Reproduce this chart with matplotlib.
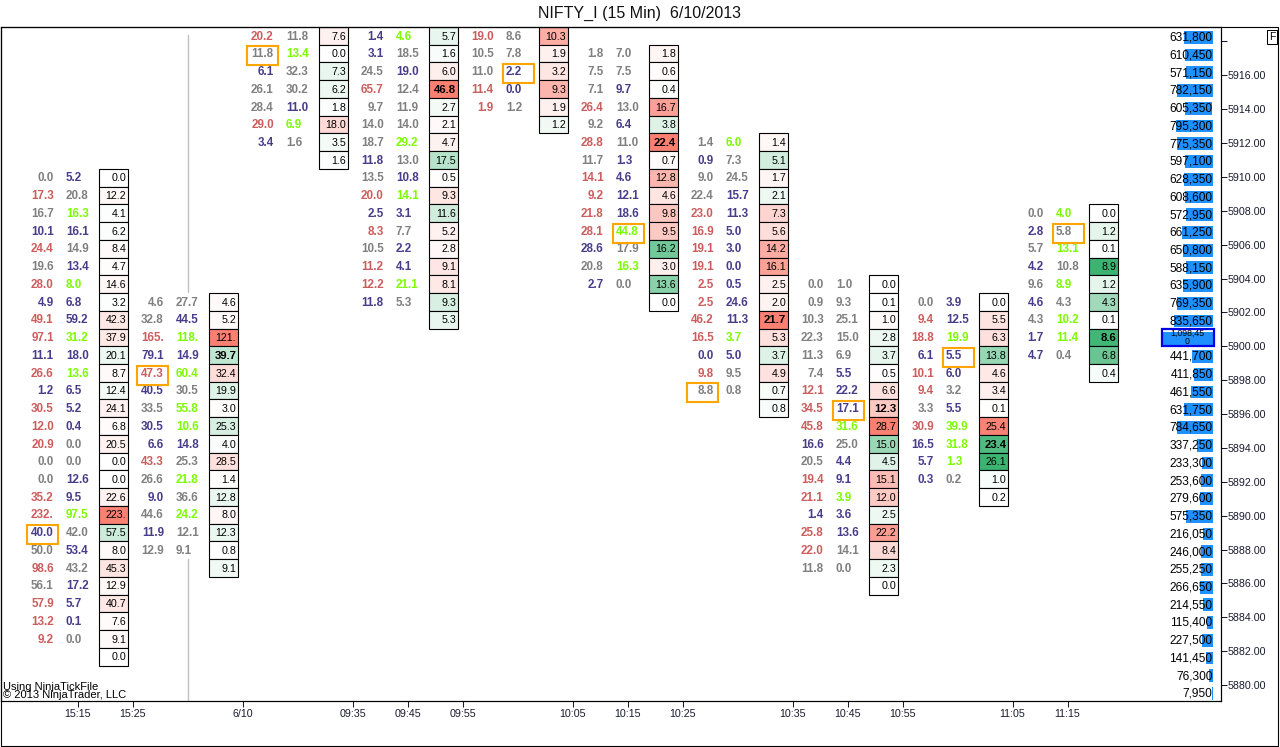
import matplotlib
matplotlib.use("Agg")
import matplotlib.pyplot as plt
from matplotlib.patches import Rectangle
import numpy as np

plt.rcParams['font.family'] = ['Liberation Sans', 'DejaVu Sans']

TITLE = "NIFTY_I (15 Min)  6/10/2013"

# ---------------- data (per bar: top row, bid/ask columns, colour codes, delta) ----------------
# colour codes: R = red, G = gray, B = dark blue, L = lime
bar_top_row = [8, 15, 0, 0, 0, 1, 6, 14, 15, 10]

bar0_c1 = [0.0, 17.3, 16.7, 10.1, 24.4, 19.6, 28.0, 4.9, 49.1, 97.1, 11.1, 26.6, 1.2, 30.5, 12.0, 20.9, 0.0, 0.0, 35.2, 232.0, 40.0, 50.0, 98.6, 56.1, 57.9, 13.2, 9.2]
bar0_c2 = [5.2, 20.8, 16.3, 16.1, 14.9, 13.4, 8.0, 6.8, 59.2, 31.2, 18.0, 13.6, 6.5, 5.2, 0.4, 0.0, 0.0, 12.6, 9.5, 97.5, 42.0, 53.4, 43.2, 17.2, 5.7, 0.1, 0.0]
bar0_k1 = "GRGBRGRBRRBRBRRRGGRRBGRGRRR"
bar0_k2 = "BGLBGBLBBLBLBBBGGBBLGBGBBBG"
bar0_delta = [0.0, 12.2, -4.1, -6.2, 8.4, 4.7, 14.6, -3.2, 42.3, 37.9, -20.1, 8.7, -12.4, 24.1, 6.8, 20.5, 0.0, 0.0, 22.6, 223.0, -57.5, 8.0, 45.3, 12.9, 40.7, 7.6, 9.1, 0.0]

bar1_c1 = [4.6, 32.8, 165.0, 79.1, 47.3, 40.5, 33.5, 30.5, 6.6, 43.3, 26.6, 9.0, 44.6, 11.9, 12.9]
bar1_c2 = [27.7, 44.5, 118.0, 14.9, 60.4, 30.5, 55.8, 10.6, 14.8, 25.3, 21.8, 36.6, 24.2, 12.1, 9.1]
bar1_k1 = "GGRBRBGBBRGBGBG"
bar1_k2 = "GBLBLGLLBGLGLGG"
bar1_delta = [4.6, 5.2, 121.0, -39.7, 32.4, -19.9, 3.0, -25.3, -4.0, 28.5, 1.4, -12.8, 8.0, -12.3, 0.8, -9.1]

bar2_c1 = [20.2, 11.8, 6.1, 26.1, 28.4, 29.0, 3.4]
bar2_c2 = [11.8, 13.4, 32.3, 30.2, 11.0, 6.9, 1.6]
bar2_k1 = "RGBGGRB"
bar2_k2 = "GLGGBLG"
bar2_delta = [7.6, 0.0, -7.3, -6.2, -1.8, 18.0, -3.5, -1.6]

bar3_c1 = [1.4, 3.1, 24.5, 65.7, 9.7, 14.0, 18.7, 11.8, 13.5, 20.0, 2.5, 8.3, 10.5, 11.2, 12.2, 11.8]
bar3_c2 = [4.6, 18.5, 19.0, 12.4, 11.9, 14.0, 29.2, 13.0, 10.8, 14.1, 3.1, 7.7, 2.2, 4.1, 21.1, 5.3]
bar3_k1 = "BBGRGGGBGRBRGRRB"
bar3_k2 = "LGBGGGLGBLBGBBLG"
bar3_delta = [-5.7, -1.6, 6.0, 46.8, -2.7, 2.1, 4.7, -17.5, 0.5, 9.3, -11.6, 5.2, 2.8, 9.1, 8.1, -9.3, -5.3]

bar4_c1 = [19.0, 10.5, 11.0, 11.4, 1.9]
bar4_c2 = [8.6, 7.8, 2.2, 0.0, 1.2]
bar4_k1 = "RGGRR"
bar4_k2 = "GGBBG"
bar4_delta = [10.3, 1.9, 3.2, 9.3, 1.9, -1.2]

bar5_c1 = [1.8, 7.5, 7.1, 26.4, 9.2, 28.8, 11.7, 14.1, 9.2, 21.8, 28.1, 28.6, 20.8, 2.7]
bar5_c2 = [7.0, 7.5, 9.7, 13.0, 6.4, 11.0, 1.3, 4.6, 12.1, 18.6, 44.8, 17.9, 16.3, 0.0]
bar5_k1 = "GGGRGRGRRRRBGB"
bar5_k2 = "GGBGBGBBBBLGLG"
bar5_delta = [1.8, 0.6, -0.4, 16.7, -3.8, 22.4, 0.7, 12.8, 4.6, 9.8, 9.5, -16.2, 3.0, -13.6, 0.0]

bar6_c1 = [1.4, 0.9, 9.0, 22.4, 23.0, 16.9, 19.1, 19.1, 2.5, 2.5, 46.2, 16.5, 0.0, 9.8, 8.8]
bar6_c2 = [6.0, 7.3, 24.5, 15.7, 11.3, 5.0, 3.0, 0.0, 0.5, 24.6, 11.3, 3.7, 5.0, 9.5, 0.8]
bar6_k1 = "GBGGRRRRRRRRBRG"
bar6_k2 = "LGGBBBBBBBBLBGG"
bar6_delta = [1.4, -5.1, 1.7, -2.1, 7.3, 5.6, 14.2, 16.1, 2.5, 2.0, 21.7, 5.3, -3.7, 4.9, -0.7, -0.8]

bar7_c1 = [0.0, 0.9, 10.3, 22.3, 11.3, 7.4, 12.1, 34.5, 45.8, 16.6, 20.5, 19.4, 21.1, 1.4, 25.8, 22.0, 11.8]
bar7_c2 = [1.0, 9.3, 25.1, 15.0, 6.9, 5.5, 22.2, 17.1, 31.6, 25.0, 4.4, 9.1, 3.9, 3.6, 13.6, 14.1, 0.0]
bar7_k1 = "GGGGGGRRRBGRRBRRG"
bar7_k2 = "GGGGGBBBLGBBLBBGG"
bar7_delta = [0.0, -0.1, 1.0, -2.8, -3.7, 0.5, 6.6, 12.3, 28.7, -15.0, -4.5, 15.1, 12.0, -2.5, 22.2, 8.4, -2.3, 0.0]

bar8_c1 = [0.0, 9.4, 18.8, 6.1, 10.1, 9.4, 3.3, 30.9, 16.5, 5.7, 0.3]
bar8_c2 = [3.9, 12.5, 19.9, 5.5, 6.0, 3.2, 5.5, 39.9, 31.8, 1.3, 0.2]
bar8_k1 = "GRRBRRGRBBB"
bar8_k2 = "BBLBBGBLLLG"
bar8_delta = [0.0, 5.5, 6.3, -13.8, 4.6, 3.4, 0.1, 25.4, -23.4, -26.1, -1.0, -0.2]

bar9_c1 = [0.0, 2.8, 5.7, 4.2, 9.6, 4.6, 4.3, 1.7, 4.7]
bar9_c2 = [4.0, 5.8, 13.1, 10.8, 8.9, 4.3, 10.2, 11.4, 0.4]
bar9_k1 = "GBGBGBGBB"
bar9_k2 = "LGLGLGLLG"
bar9_delta = [0.0, -1.2, -0.1, -8.9, -1.2, -4.3, -0.1, -8.6, -6.8, -0.4]

bold_row = [None, 3, None, 3, None, 5, 10, 7, 8, 7]
shade_ref = [223.0, 121.0, 64.0, 46.8, 16.0, 22.4, 21.7, 28.7, 26.1, 8.9]
# orange highlighted cells: (bar, row in bar, column 1/2)
highlights = [(0, 20, 1), (1, 4, 1), (2, 1, 1), (4, 2, 2), (5, 10, 2), (6, 14, 1), (7, 7, 2), (8, 3, 2), (9, 1, 2)]

# volume profile, top row to bottom row
profile_vol = [631800, 610450, 571150, 782150, 605350, 795300, 775350, 597100, 628350, 608600,
               572950, 661250, 650800, 588150, 635900, 769350, 835650, 1098450, 441700, 411850,
               461550, 631750, 784650, 337250, 233300, 253600, 279600, 575350, 216050, 246000,
               255250, 266650, 214550, 115400, 227500, 141450, 76300, 7950]

time_tick_pos = [-0.5, 0, 1, 2, 2.5, 3, 4, 4.5, 5, 6, 6.5, 7, 8, 8.5]
time_tick_lab = ["15:15", "15:25", "6/10", "09:35", "09:45", "09:55", "10:05", "10:15",
                 "10:25", "10:35", "10:45", "10:55", "11:05", "11:15"]
price_ticks = list(range(5880, 5919, 2))
price_range = (5879.06, 5918.85)
session_break = 0.5

c1_all = [bar0_c1, bar1_c1, bar2_c1, bar3_c1, bar4_c1, bar5_c1, bar6_c1, bar7_c1, bar8_c1, bar9_c1]
c2_all = [bar0_c2, bar1_c2, bar2_c2, bar3_c2, bar4_c2, bar5_c2, bar6_c2, bar7_c2, bar8_c2, bar9_c2]
k1_all = [bar0_k1, bar1_k1, bar2_k1, bar3_k1, bar4_k1, bar5_k1, bar6_k1, bar7_k1, bar8_k1, bar9_k1]
k2_all = [bar0_k2, bar1_k2, bar2_k2, bar3_k2, bar4_k2, bar5_k2, bar6_k2, bar7_k2, bar8_k2, bar9_k2]
d_all = [bar0_delta, bar1_delta, bar2_delta, bar3_delta, bar4_delta, bar5_delta, bar6_delta,
         bar7_delta, bar8_delta, bar9_delta]

# ---------------- style ----------------
TXT = {'R': '#cd5c5c', 'G': '#808080', 'B': '#483d8b', 'L': '#7cfc00'}
RED = (250 / 255, 128 / 255, 114 / 255)
GREEN = (60 / 255, 179 / 255, 113 / 255)
W, H = 1280, 747
NROWS = 38
SLOT0, STEP = 132, 110          # pixel position of first bar slot and spacing
PX = 1.0 / STEP                 # one pixel in slot units
C1_RIGHT = -78.7 * PX
C2_LEFT = -66.7 * PX
BOX_L, BOX_R = -33.3 * PX, -4.7 * PX
DY = 0.04


def fmt(v):
    s = f"{abs(v):.1f}"
    return s[:4] if len(s) > 4 else s


def shade(v, ref):
    a = min(abs(v) / ref, 1.0)
    base = RED if v > 0 else GREEN
    return tuple(1 - a * (1 - c) for c in base)


fig = plt.figure(figsize=(W / 100, H / 100), dpi=100)
ax = fig.add_axes([0.5 / W, (H - 701) / H, 1220 / W, 674 / H])
ax.set_xlim((0 - SLOT0) / STEP, (1220 - SLOT0) / STEP)
ax.set_ylim(NROWS, 0)
for s in ax.spines.values():
    s.set_linewidth(0.8)
ax.set_yticks([])
ax.set_xticks(time_tick_pos)
ax.set_xticklabels(time_tick_lab)
ax.tick_params(axis='x', direction='out', length=4.3, width=0.75, pad=1.5, labelsize=7.7,
               colors='#1a1a2e')

# session break line
ax.axvline(session_break, ymin=0, ymax=(701 - 35) / 674, color='#c0c0c0', lw=1.0, zorder=0.5)

for i in range(len(c1_all)):
    top = bar_top_row[i]
    c1, c2, k1, k2, d = c1_all[i], c2_all[i], k1_all[i], k2_all[i], d_all[i]
    for j in range(len(c1)):
        y = top + j + 0.5 + DY
        ax.add_patch(Rectangle((i - 108 * PX, top + j), 71 * PX, 1, fc='white', ec='none', zorder=1))
        ax.text(i + C1_RIGHT, y, fmt(c1[j]), ha='right', va='center', fontsize=8.4,
                fontweight='bold', color=TXT[k1[j]], zorder=3)
        ax.text(i + C2_LEFT, y, fmt(c2[j]), ha='left', va='center', fontsize=8.4,
                fontweight='bold', color=TXT[k2[j]], zorder=3)
    for j, v in enumerate(d):
        ax.add_patch(Rectangle((i + BOX_L, top + j), BOX_R - BOX_L, 1,
                               fc=shade(v, shade_ref[i]), ec='black', lw=0.8, zorder=2))
        isb = bold_row[i] == j
        ax.text(i + BOX_R - 1.5 * PX, top + j + 0.5 + DY, fmt(v), ha='right', va='center',
                fontsize=8.2 if isb else 7.7, fontweight='bold' if isb else 'normal',
                color='black', zorder=3)

for (i, j, col) in highlights:
    row = bar_top_row[i] + j
    if col == 1:
        x0, x1 = -105.3 * PX, -74.7 * PX
    else:
        x0, x1 = -69.7 * PX, -39.0 * PX
    ax.add_patch(Rectangle((i + x0, row + 0.09), x1 - x0, 1.07, fill=False, ec='#ffa500',
                           lw=1.5, zorder=4))

# volume profile
VP_RIGHT = (1212 - SLOT0) / STEP
VP_MAXW = 50.3 * PX
vmax = max(profile_vol)
for k, v in enumerate(profile_vol):
    w = v / vmax * VP_MAXW
    ax.add_patch(Rectangle((VP_RIGHT - w, k + 0.5 - 0.36 + 0.08), w, 0.72, fc='#1e90ff',
                           ec='none', zorder=2))
    if v == vmax:
        hl = Rectangle((VP_RIGHT - VP_MAXW - 0.6 * PX, k), VP_MAXW + 1.6 * PX, 1, fill=False,
                       ec='#0000e6', lw=1.6, zorder=4)
        ax.add_patch(hl)
        s = f"{v:,}"
        ax.text(VP_RIGHT - VP_MAXW / 2, k + 0.52, s[:-1] + "\n" + s[-1],
                ha='center', va='center', fontsize=6.3, linespacing=0.85, zorder=3)
    else:
        ax.text(VP_RIGHT, k + 0.5 + 0.1, f"{v:,}", ha='right', va='center', fontsize=8.6,
                color='black', zorder=3)

# right price axis
ax2 = ax.twinx()
ax2.set_ylim(*price_range)
ax2.set_yticks(price_ticks)
ax2.set_yticklabels([f"{p:.2f}" if p < 5918 else "" for p in price_ticks])
ax2.tick_params(axis='y', direction='out', length=4.3, width=0.75, pad=1, labelsize=7.7,
                colors='#1a1a2e')
for s in ax2.spines.values():
    s.set_linewidth(0.8)

# outer frame, title, misc text
fig.add_artist(Rectangle((0.5 / W, (H - 745.5) / H), 1277.5 / W, (745.5 - 27) / H,
                         transform=fig.transFigure, fill=False, ec='black', lw=0.8))
fig.text(640 / W, 1 - 13.5 / H, TITLE, ha='center', va='center', fontsize=11.5, color='#111111')
fig.text(1272 / W, 1 - 37 / H, "F", ha='center', va='center', fontsize=7.5,
         bbox=dict(boxstyle='square,pad=0.2', fc='white', ec='black', lw=0.75))
fig.text(3 / W, 1 - 686.5 / H, "Using NinjaTickFile", ha='left', va='center', fontsize=8)
fig.text(3 / W, 1 - 695.5 / H, "\u00a9 2013 NinjaTrader, LLC", ha='left', va='center', fontsize=8)

fig.savefig("out.png", dpi=100)
